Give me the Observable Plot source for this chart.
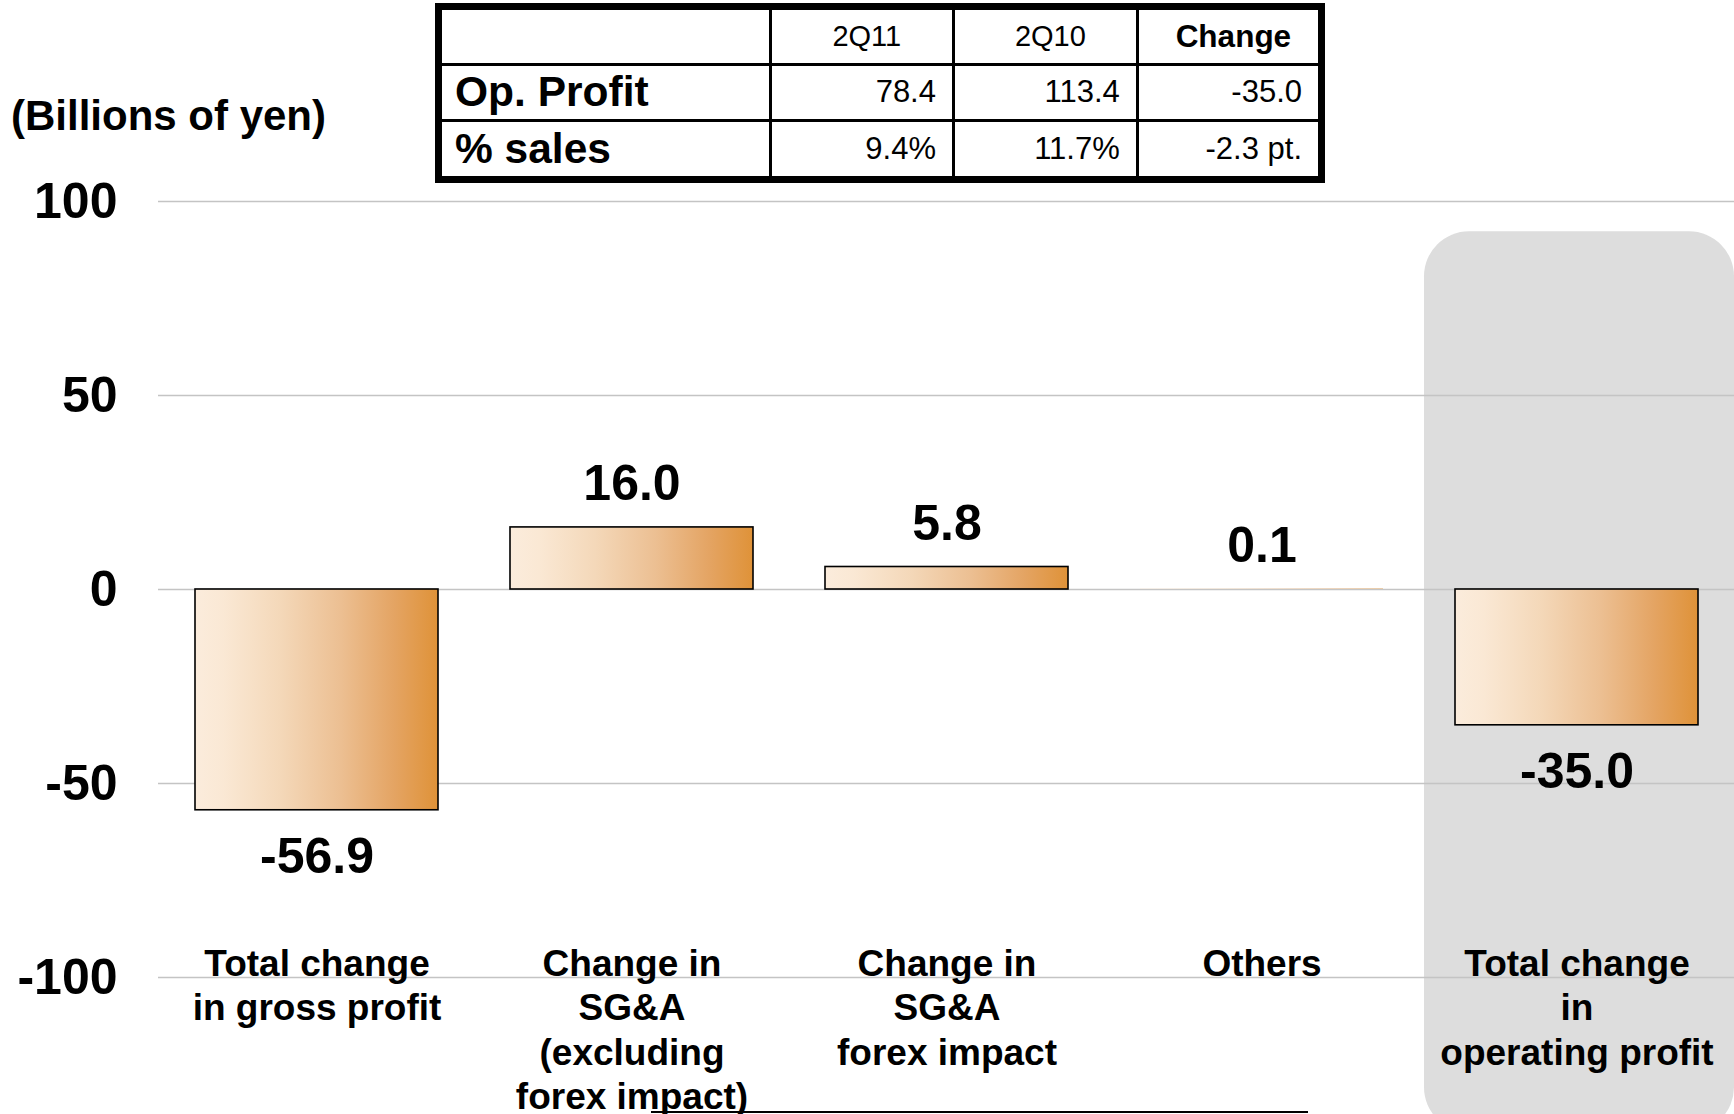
<!DOCTYPE html>
<html>
<head>
<meta charset="utf-8">
<script src="https://cdn.jsdelivr.net/npm/d3@7"></script>
<script src="https://cdn.jsdelivr.net/npm/@observablehq/plot@0.6"></script>
<style>
  html, body { margin: 0; padding: 0; background: #fff; overflow: hidden; }
  body { font-family: "Liberation Sans", Arial, Helvetica, sans-serif; color: #000; }
  #wrap { position: relative; width: 1734px; height: 1114px; overflow: hidden; }
  #chart { position: absolute; left: 0; top: 0; }
  #unit { position: absolute; left: 11px; top: 95px; font-size: 42px; line-height: 42px; font-weight: bold; white-space: nowrap; }
  #tbl { position: absolute; left: 435px; top: 3px; width: 890px; height: 180px; box-sizing: border-box;
         border: 7px solid #000; display: grid;
         grid-template-columns: 329.7px 183.3px 183.8px 1fr; grid-template-rows: 55.7px 56px 1fr; background: #fff; }
  .cell { box-sizing: border-box; border-right: 3.4px solid #000; border-bottom: 3.2px solid #000;
          display: flex; align-items: center; white-space: nowrap; }
  .cell.lastcol { border-right: none; }
  .cell.lastrow { border-bottom: none; }
  .hdr { justify-content: center; font-size: 29px; padding-left: 10px; }
  .hdr.bold { font-weight: bold; font-size: 31.5px; }
  .rowlab { font-weight: bold; font-size: 42.5px; padding-left: 13px; }
  .val { justify-content: flex-end; font-size: 31px; padding-right: 16px; }
  #baseline { position: absolute; left: 651px; top: 1111px; width: 657px; height: 2px; background: #000; }
</style>
</head>
<body>
<div id="wrap">
  <div id="chart"></div>
  <div id="unit"></div>
  <div id="tbl"></div>
  <div id="baseline"></div>
</div>
<script>
// ---- data ----
const categories = [
  "Total change\nin gross profit",
  "Change in\nSG&A\n(excluding\nforex impact)",
  "Change in\nSG&A\nforex impact",
  "Others",
  "Total change\nin\noperating profit"
];
const values = [-56.9, 16.0, 5.8, 0.1, -35.0];
const yTicks = [100, 50, 0, -50, -100];
const unitLabel = "(Billions of yen)";
const highlightedCategory = "Total change\nin\noperating profit";

const tableHeader = ["", "2Q11", "2Q10", "Change"];
const tableRowLabels = ["Op. Profit", "% sales"];
const opProfitRow = ["78.4", "113.4", "-35.0"];
const pctSalesRow = ["9.4%", "11.7%", "-2.3 pt."];

// ---- build ----
const data = categories.map((c, i) => ({category: c, value: values[i]}));
const bigBars = data.filter(d => Math.abs(d.value) >= 1);
const tinyBars = data.filter(d => Math.abs(d.value) < 1);

const gradientDefs = () => {
  const defs = d3.create("svg:defs");
  const g = defs.append("linearGradient").attr("id", "barGrad")
    .attr("x1", "0").attr("x2", "1").attr("y1", "0").attr("y2", "0");
  [["0%", "#fbecdc"], ["12%", "#fae8d4"], ["35%", "#f4d8b9"], ["60%", "#ecbf92"], ["82%", "#e4a463"], ["100%", "#df9238"]]
    .forEach(([o, c]) => g.append("stop").attr("offset", o).attr("stop-color", c));
  return defs.node();
};

const chart = Plot.plot({
  width: 1734,
  height: 1114,
  marginLeft: 158,
  marginRight: 0,
  marginTop: 201,
  marginBottom: 137,
  style: {fontFamily: "'Liberation Sans', Arial, Helvetica, sans-serif", background: "transparent", color: "#000"},
  x: {domain: categories, paddingInner: 0.23, paddingOuter: 0.115, axis: null},
  y: {domain: [-100, 100], axis: null},
  marks: [
    gradientDefs,
    Plot.barY(data.filter(d => d.category === highlightedCategory), {
      x: "category", y1: -140, y2: 92.2, fill: "#dddddd", rx: 45, insetLeft: -31, insetRight: -36
    }),
    Plot.gridY(yTicks, {stroke: "#c4c4c4", strokeOpacity: 1, strokeWidth: 1.6}),
    Plot.axisY(yTicks, {tickSize: 0, tickPadding: 41, fontSize: 50, fontWeight: "bold", tickFormat: d => String(d), label: null}),
    Plot.axisX({anchor: "bottom", tickSize: 0, tickPadding: 0, dy: -33, fontSize: 37, fontWeight: "bold", lineHeight: 1.2, label: null}),
    Plot.barY(tinyBars, {x: "category", y: "value", fill: "url(#barGrad)"}),
    Plot.barY(bigBars, {x: "category", y: "value", fill: "url(#barGrad)", stroke: "#000", strokeWidth: 1.6}),
    Plot.text(data.filter(d => d.value >= 0), {
      x: "category", y: "value", text: d => d.value.toFixed(1), lineAnchor: "bottom", dy: -27,
      fontSize: 50, fontWeight: "bold", fill: "#000"
    }),
    Plot.text(data.filter(d => d.value < 0), {
      x: "category", y: "value", text: d => d.value.toFixed(1), lineAnchor: "top", dy: 27,
      fontSize: 50, fontWeight: "bold", fill: "#000"
    })
  ]
});
document.getElementById("chart").appendChild(chart);
document.getElementById("unit").textContent = unitLabel;

// table
const tbl = document.getElementById("tbl");
const rows = [
  tableHeader,
  [tableRowLabels[0], ...opProfitRow],
  [tableRowLabels[1], ...pctSalesRow]
];
rows.forEach((row, r) => {
  row.forEach((txt, c) => {
    const div = document.createElement("div");
    div.className = "cell";
    if (c === row.length - 1) div.classList.add("lastcol");
    if (r === rows.length - 1) div.classList.add("lastrow");
    if (r === 0) {
      div.classList.add("hdr");
      if (c === 3) div.classList.add("bold");
    } else if (c === 0) {
      div.classList.add("rowlab");
    } else {
      div.classList.add("val");
    }
    div.textContent = txt;
    tbl.appendChild(div);
  });
});
</script>
</body>
</html>
